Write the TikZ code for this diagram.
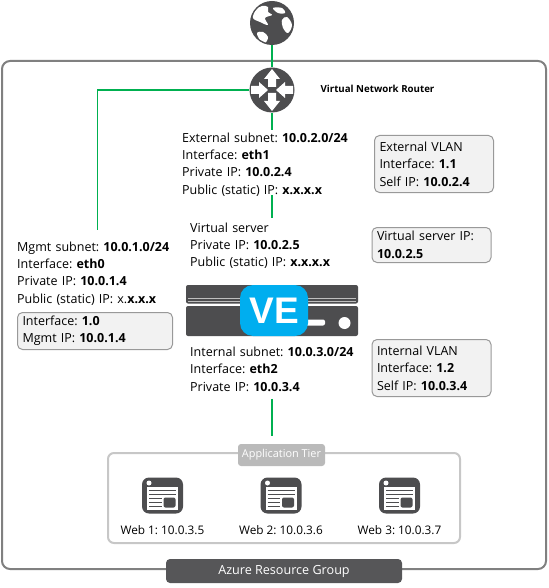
\documentclass[tikz,border=0pt]{standalone}
\usepackage{fontspec}
\setmainfont{Open Sans}
\newfontfamily\logofont{Liberation Sans}
\usetikzlibrary{positioning}
\frenchspacing

\definecolor{icondark}{HTML}{4D4D4F}
\definecolor{linkgreen}{HTML}{00B050}
\definecolor{vlanfill}{HTML}{F2F2F2}
\definecolor{veblue}{HTML}{00AEEF}

\tikzset{
  infotext/.style={align=left,anchor=north west,inner sep=0pt,text width=#1,
    font=\fontsize{12.5}{17.4}\selectfont},
  infotext/.default=172pt,
  vlanbox/.style={draw=black!40,fill=vlanfill,rounded corners=5pt,line width=1pt,
    align=left,anchor=north west,inner xsep=5pt,inner ysep=1pt,text width=#1,
    font=\fontsize{12.5}{17.4}\selectfont},
  link/.style={draw=linkgreen,line width=1.4pt},
  roundicon/.style={circle,fill=icondark,minimum size=#1,inner sep=0pt},
  webicon/.style={rectangle,rounded corners=7pt,fill=icondark,minimum width=41pt,minimum height=36pt,inner sep=0pt},
  weblabel/.style={inner sep=0pt,font=\fontsize{11.8}{13}\selectfont},
  taglabel/.style={rounded corners=3pt,inner sep=0pt,text=white}
}

\begin{document}
\begin{tikzpicture}[x=1pt,y=-1pt]
\useasboundingbox (0,0) rectangle (548,588);

% resource group frame
\node[draw=black!50,line width=2pt,rounded corners=8pt,minimum width=544pt,minimum height=508pt,inner sep=0pt] (rgroup) at (274,315) {};

% application tier frame
\node[draw=black!22,line width=2pt,rounded corners=6pt,minimum width=352pt,minimum height=90pt,inner sep=0pt] (apptier) at (284,498) {};
\node[taglabel,fill=black!27,minimum width=87pt,minimum height=22pt,font=\fontsize{10.9}{13}\selectfont] (applabel) at (281.5,455) {\raisebox{-1.5pt}{Application Tier}};

% globe
\node[roundicon=44pt] (globe) at (272,23) {};
\begin{scope}
\clip (272,23) circle (20.5);
\fill[white] plot[smooth cycle,tension=0.6] coordinates {(256,10) (262,6) (268,7) (268,12) (272,15) (265,18) (268,25) (260,22) (253,18)};
\fill[white] plot[smooth cycle,tension=0.6] coordinates {(257,33) (263,32) (268,37) (265,43) (260,40)};
\fill[white] plot[smooth cycle,tension=0.6] coordinates {(273,8) (282,8) (285,13) (278,13)};
\fill[white] plot[smooth cycle,tension=0.6] coordinates {(282,20) (287,17) (292,25) (288,33) (283,28)};
\end{scope}

% router
\node[roundicon=45pt] (router) at (272,90) {};
\foreach \a in {-90,90}
  \fill[white,shift={(272,90)},rotate=\a] (3,-4) -- (11,-4) -- (11,-8) -- (21,0) -- (11,8) -- (11,4) -- (3,4) -- cycle;
\foreach \a in {0,180}
  \fill[white,shift={(272,90)},rotate=\a] (21,-4) -- (13,-4) -- (13,-8) -- (4,0) -- (13,8) -- (13,4) -- (21,4) -- cycle;
\node[inner sep=0pt,font=\bfseries\fontsize{9.7}{10}\selectfont] (routerlabel) at (377.5,89) {Virtual Network Router};

% text blocks
\node[infotext] (extinfo) at (182,132.5) {External subnet: \textbf{10.0.2.0/24}\\Interface: \textbf{eth1}\\Private IP: \textbf{10.0.2.4}\\Public (static) IP: \textbf{x.x.x.x}};
\node[infotext=160pt] (mgmtinfo) at (17,241.5) {Mgmt subnet: \textbf{10.0.1.0/24}\\Interface: \textbf{eth0}\\Private IP: \textbf{10.0.1.4}\\Public (static) IP: x.\textbf{x.x.x}};
\node[infotext] (vsinfo) at (190,222.5) {Virtual server\\Private IP: \textbf{10.0.2.5}\\Public (static) IP: \textbf{x.x.x.x}};
\node[infotext] (intinfo) at (190,346.5) {Internal subnet: \textbf{10.0.3.0/24}\\Interface: \textbf{eth2}\\Private IP: \textbf{10.0.3.4}};

% vlan boxes
\node[vlanbox=109pt,minimum height=57pt] (extvlan) at (374,135) {External VLAN\\Interface: \textbf{1.1}\\Self IP: \textbf{10.0.2.4}};
\node[vlanbox=109pt,minimum height=35pt] (vsvlan) at (371.5,227) {Virtual server IP:\\\textbf{10.0.2.5}};
\node[vlanbox=109pt,minimum height=57pt] (intvlan) at (371.5,339) {Internal VLAN\\Interface: \textbf{1.2}\\Self IP: \textbf{10.0.3.4}};
\node[vlanbox=145pt,minimum height=37pt] (mgmtvlan) at (17,312) {Interface: \textbf{1.0}\\Mgmt IP: \textbf{10.0.1.4}};

% server
\fill[icondark,rounded corners=2pt] (186,285) rectangle (358,303.5);
\fill[icondark,rounded corners=2pt] (186,306) rectangle (358,336);
\draw[black!25,line width=1pt] (188,298.5) -- (356,298.5) (188,301) -- (356,301);
\fill[white,rounded corners=2pt] (300,319.5) rectangle (325,325.5);
\fill[white] (344.5,323) circle (6);
\node[fill=veblue,rounded corners=13pt,minimum width=68pt,minimum height=51pt,inner sep=0pt,text=white,font=\logofont\bfseries\fontsize{37}{37}\selectfont] (ve) at (274,310.5) {VE};

% web servers
\foreach \n/\xc/\lab in {1/162.5/5,2/281/6,3/399.5/7}{
  \node[webicon] (web\n) at (\xc,495.5) {};
  \fill[white] (\xc-15.5,487) rectangle (\xc+15.5,510);
  \fill[white] (\xc-13.5,483) circle (2.5);
  \draw[icondark,line width=1.2pt] (\xc-13.5,490.5) -- (\xc+13.5,490.5) (\xc-13.5,494.5) -- (\xc+13.5,494.5)
    (\xc-13.5,498.5) -- (\xc-1,498.5) (\xc-13.5,502.5) -- (\xc-1,502.5) (\xc-13.5,506.5) -- (\xc-1,506.5);
  \fill[icondark,rounded corners=2pt] (\xc+1,497.5) rectangle (\xc+13,507.5);
  \node[weblabel] (weblabel\n) at (\xc,530.5) {Web \n: 10.0.3.\lab};
}

% resource group tag
\node[taglabel,fill=icondark!95,rounded corners=4pt,minimum width=236pt,minimum height=24pt,font=\fontsize{12.6}{14}\selectfont] (rglabel) at (284,571) {\raisebox{-2.5pt}{Azure Resource Group}};

% links
\draw[link] (globe) -- (router);
\draw[link] (router.west) -| ([yshift=11.5pt]mgmtinfo.north);
\draw[link] (router) -- ([yshift=2.5pt]extinfo.north -| router);
\draw[link] ([yshift=1.5pt]extinfo.south -| router) -- ([yshift=4.5pt]vsinfo.north -| router);
\draw[link] ([yshift=-7.5pt]intinfo.south -| router) -- ([yshift=8pt]applabel.north -| router);

\end{tikzpicture}
\end{document}
